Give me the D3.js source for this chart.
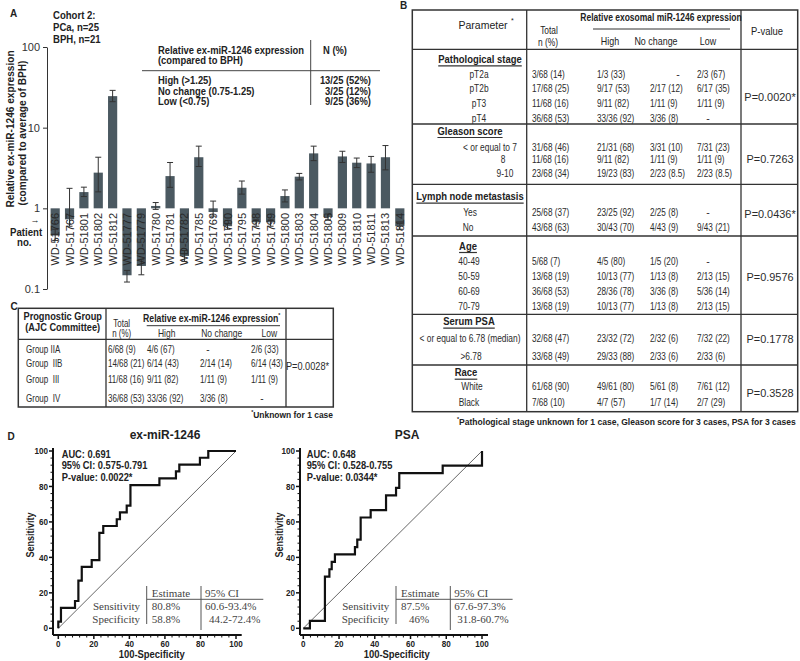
<!DOCTYPE html>
<html><head><meta charset="utf-8">
<script src="https://cdn.jsdelivr.net/npm/d3@7"></script>
<style>body{margin:0;background:#fff}svg{display:block}</style>
</head><body><svg id="c" width="800" height="661"></svg>
<script>
// ================= DATA =================
// Panel A
const patients = ["WD-51766","WD-51767","WD-51801","WD-51802","WD-51812","WD-51777","WD-51779","WD-51780","WD-51781","WD-51782","WD-51785","WD-51769","WD-51790","WD-51795","WD-51798","WD-51799","WD-51800","WD-51803","WD-51804","WD-51805","WD-51809","WD-51810","WD-51811","WD-51813","WD-51814"];
const expression = [0.46,0.73,1.59,2.77,24.6,0.148,0.193,1.07,2.51,0.257,4.3,0.9,0.6,1.8,0.67,0.67,1.42,2.47,4.8,0.78,4.4,3.68,3.6,4.3,0.6];
const errLow  = [0.40,0.60,1.40,1.60,21.0,0.122,0.150,0.97,1.82,0.22,3.3,0.80,0.55,1.50,0.60,0.60,1.20,2.25,3.9,0.72,3.7,3.2,2.8,3.0,0.55];
const errHigh = [0.55,1.77,1.83,4.30,29.0,0.17,0.23,1.18,3.70,0.30,5.9,1.23,0.65,2.18,0.72,0.72,1.69,2.71,5.9,0.85,5.1,4.2,4.4,6.0,0.65];
const yTickValsA = [0.1,1,10,100];
const yTickLabelsA = ["0.1","1","10","100"];
const cohortLines = ["Cohort 2:","PCa, n=25","BPH, n=21"];
const legendHead = ["Relative ex-miR-1246 expression","(compared to BPH)"];
const legendCats = ["High (>1.25)","No change (0.75-1.25)","Low (<0.75)"];
const legendN = ["13/25 (52%)","3/25 (12%)","9/25 (36%)"];

// Panel B
const pathStage = [["pT2a","3/68 (14)","1/3 (33)","-","2/3 (67)"],["pT2b","17/68 (25)","9/17 (53)","2/17 (12)","6/17 (35)"],["pT3","11/68 (16)","9/11 (82)","1/11 (9)","1/11 (9)"],["pT4","36/68 (53)","33/36 (92)","3/36 (8)","-"]];
const gleason = [["< or equal to 7","31/68 (46)","21/31 (68)","3/31 (10)","7/31 (23)"],["8","11/68 (16)","9/11 (82)","1/11 (9)","1/11 (9)"],["9-10","23/68 (34)","19/23 (83)","2/23 (8.5)","2/23 (8.5)"]];
const lymph = [["Yes","25/68 (37)","23/25 (92)","2/25 (8)","-"],["No","43/68 (63)","30/43 (70)","4/43 (9)","9/43 (21)"]];
const age = [["40-49","5/68 (7)","4/5 (80)","1/5 (20)","-"],["50-59","13/68 (19)","10/13 (77)","1/13 (8)","2/13 (15)"],["60-69","36/68 (53)","28/36 (78)","3/36 (8)","5/36 (14)"],["70-79","13/68 (19)","10/13 (77)","1/13 (8)","2/13 (15)"]];
const serumPSA = [["< or equal to 6.78 (median)","32/68 (47)","23/32 (72)","2/32 (6)","7/32 (22)"],[">6.78","33/68 (49)","29/33 (88)","2/33 (6)","2/33 (6)"]];
const race = [["White","61/68 (90)","49/61 (80)","5/61 (8)","7/61 (12)"],["Black","7/68 (10)","4/7 (57)","1/7 (14)","2/7 (29)"]];
const sectionTitlesB = ["Pathological stage","Gleason score","Lymph node metastasis","Age","Serum PSA","Race"];
const pValuesB = ["P=0.0020*","P=0.7263","P=0.0436*","P=0.9576","P=0.1778","P=0.3528"];

// Panel C
const progGroups = [["Group IIA","6/68 (9)","4/6 (67)","-","2/6 (33)"],["Group\u00a0 IIB","14/68 (21)","6/14 (43)","2/14 (14)","6/14 (43)"],["Group\u00a0 III","11/68 (16)","9/11 (82)","1/11 (9)","1/11 (9)"],["Group\u00a0 IV","36/68 (53)","33/36 (92)","3/36 (8)","-"]];
const pValueC = "P=0.0028*";

// Panel D
const rocTicks = [0,20,40,60,80,100];
const mirFpr = [0,0,1.5,1.5,9.4,9.4,11.3,11.3,13.2,13.2,18.8,18.8,23.1,23.1,25.3,25.3,32.9,32.9,34.7,34.7,38.5,38.5,40.6,40.6,56.9,56.9,66.2,66.2,68.1,68.1,79.7,79.7,84.4,84.4,100];
const mirTpr = [0,3.8,3.8,11.5,11.5,15.4,15.4,26.9,26.9,34.6,34.6,38.5,38.5,53.8,53.8,57.7,57.7,61.5,61.5,65.4,65.4,69.2,69.2,80.8,80.8,84.6,84.6,88.5,88.5,92.3,92.3,96.2,96.2,100,100];
const psaFpr = [0,3.7,3.7,12.1,12.1,14.6,14.6,15.9,15.9,17.7,17.7,28.9,28.9,30.2,30.2,32.1,32.1,37.7,37.7,46.3,46.3,51.9,51.9,53.7,53.7,78,78,100,100];
const psaTpr = [0,0,4.2,4.2,29.2,29.2,33.3,33.3,37.5,37.5,41.7,41.7,45.8,45.8,50,50,62.5,62.5,66.7,66.7,75,75,79.2,79.2,87.5,87.5,91.7,91.7,100];
const mirStats = ["AUC: 0.691","95% CI: 0.575-0.791","P-value: 0.0022*"];
const psaStats = ["AUC: 0.648","95% CI: 0.528-0.755","P-value: 0.0344*"];
const estHead = ["Estimate","95% CI"];
const estRows = ["Sensitivity","Specificity"];
const mirEstimate = ["80.8%","58.8%"], mirCI = ["60.6-93.4%","44.2-72.4%"];
const psaEstimate = ["87.5%","46%"], psaCI = ["67.6-97.3%","31.8-60.7%"];

// ================= DRAWING =================
const FONT = "'Liberation Sans', Arial, Helvetica, sans-serif";
const SERIF = "'Liberation Serif', 'DejaVu Serif', serif";
const INK = "#222";
const svg = d3.select("#c");
svg.append("rect").attr("width",800).attr("height",661).attr("fill","#fff");

function T(g, x, y, s, o = {}) {
  const t = g.append("text").attr("x",0).attr("y",0)
    .attr("font-family", o.family || FONT)
    .attr("font-size", o.size || 10)
    .attr("font-weight", o.weight || "normal")
    .attr("fill", o.fill || INK)
    .attr("text-anchor", o.anchor || "start")
    .attr("dominant-baseline","central")
    .style("white-space","pre")
    .text(s);
  let tr = `translate(${x},${y})`;
  if (o.rot) tr += ` rotate(${o.rot})`;
  if (o.sx) tr += ` scale(${o.sx},1)`;
  t.attr("transform", tr);
  return t;
}
function L(g, x1, y1, x2, y2, w = 1, c = "#333") {
  return g.append("line").attr("x1",x1).attr("y1",y1).attr("x2",x2).attr("y2",y2)
    .attr("stroke",c).attr("stroke-width",w);
}

// ---------- Panel A ----------
const gA = svg.append("g");
T(gA, 10, 13, "A", {size:10, weight:"bold"});
cohortLines.forEach((s,i) => T(gA, 53, 15.7 + i*11.8, s, {size:11, weight:"bold", sx:0.87}));

const yA = d3.scaleLog().domain([0.1,100]).range([289,47]);
const xA = d3.scaleBand().domain(patients).range([48,407]).paddingInner(0.36).paddingOuter(0.18);

const axA = d3.axisLeft(yA).tickValues(yTickValsA).tickFormat((d,i) => yTickLabelsA[i]).tickSize(4).tickSizeOuter(0).tickPadding(3);
const gAx = gA.append("g").attr("transform","translate(47,0)").call(axA);
gAx.selectAll("text").attr("font-family",FONT).attr("font-size",11).attr("fill","#333");
gAx.selectAll("line,path").attr("stroke","#333");

gA.append("g").selectAll("rect").data(patients).join("rect")
  .attr("x", d => xA(d)).attr("width", xA.bandwidth())
  .attr("y", (d,i) => Math.min(yA(1), yA(expression[i])))
  .attr("height", (d,i) => Math.abs(yA(1) - yA(expression[i])))
  .attr("fill","#4b5961");

const gErr = gA.append("g");
patients.forEach((p,i) => {
  const cx = xA(p) + xA.bandwidth()/2;
  L(gErr, cx, yA(errLow[i]), cx, yA(errHigh[i]), 1, "#333");
  L(gErr, cx-3, yA(errLow[i]), cx+3, yA(errLow[i]), 1, "#333");
  L(gErr, cx-3, yA(errHigh[i]), cx+3, yA(errHigh[i]), 1, "#333");
});
patients.forEach(p => {
  const cx = xA(p) + xA.bandwidth()/2;
  T(gA, cx, 213, p, {size:11, anchor:"end", rot:-90, fill:"#2a2a2a"});
});
T(gA, 10, 129, "Relative ex-miR-1246 expression", {size:11, weight:"bold", anchor:"middle", rot:-90, sx:0.92});
T(gA, 22, 133, "(compared to average of BPH)", {size:11, weight:"bold", anchor:"middle", rot:-90, sx:0.92});
T(gA, 35, 220, "\u2192", {size:9, weight:"bold", anchor:"middle"});
T(gA, 10, 232, "Patient", {size:10.5, weight:"bold", sx:0.92});
T(gA, 17, 242, "no.", {size:10.5, weight:"bold", sx:0.92});

// legend table in A
T(gA, 158, 50, legendHead[0], {size:10, weight:"bold", sx:0.94});
T(gA, 158, 60, legendHead[1], {size:10, weight:"bold", sx:0.94});
T(gA, 323, 50, "N (%)", {size:10, weight:"bold", sx:0.94});
L(gA, 142, 70.7, 380, 70.7, 1, "#444");
L(gA, 310.7, 40, 310.7, 105, 1, "#444");
legendCats.forEach((s,i) => {
  T(gA, 158, 80.7 + i*10.3, s, {size:10, weight:"bold", sx:0.94});
  T(gA, 371, 80.7 + i*10.3, legendN[i], {size:10, weight:"bold", sx:0.94, anchor:"end"});
});

// ---------- Panel B ----------
const gB = svg.append("g");
T(gB, 400, 5.5, "B", {size:10, weight:"bold"});
const bL = 412.3, bR = 797.7, bT = 10, bB = 411.7;
gB.append("rect").attr("x",bL).attr("y",bT).attr("width",bR-bL).attr("height",bB-bT)
  .attr("fill","none").attr("stroke","#333").attr("stroke-width",1.5);
L(gB, 526.7, bT, 526.7, bB, 1.3);
L(gB, 741, bT, 741, bB, 1.3);
const sepB = [49.3,124,184.3,236,314.3,365];
sepB.forEach(y => L(gB, bL, y, bR, y, 1.3));
T(gB, 483, 25, "Parameter", {size:10.5, anchor:"middle"});
T(gB, 511, 20, "*", {size:7});
T(gB, 549, 30, "Total", {size:10.5, anchor:"middle", sx:0.8});
T(gB, 548, 41.7, "n (%)", {size:10.5, anchor:"middle", sx:0.8});
T(gB, 661, 18, "Relative exosomal miR-1246 expression", {size:10, weight:"bold", anchor:"middle", sx:0.85});
L(gB, 593, 29, 730, 29, 1, "#333");
T(gB, 610, 41.7, "High", {size:10.5, anchor:"middle", sx:0.85});
T(gB, 656, 41.7, "No change", {size:10.5, anchor:"middle", sx:0.85});
T(gB, 708, 41.7, "Low", {size:10.5, anchor:"middle", sx:0.85});
T(gB, 767, 31.7, "P-value", {size:10.5, anchor:"middle", sx:0.9});

const sectionsB = [pathStage, gleason, lymph, age, serumPSA, race];
const titleYB = [59.3,131,196.7,246,321.7,372.7];
const titleXB = [480,470,470,468,469,466];
const rowYB = [[74,88.3,103.3,118.3],[146.7,159.3,172.7],[211.7,226.7],[261,276,290.7,306],[337.7,356],[386,401.7]];
const rowXB = [[479,479,479,479],[490,503,505],[470,468],[469,469,469,469],[470,471],[472,469]];
const pYB = [96.7,159.3,214,276.7,339.3,392.7];
const colXB = [532,597,650,697], dashXB = [560,610,678,708];
sectionsB.forEach((rows, si) => {
  const t = T(gB, titleXB[si], titleYB[si], sectionTitlesB[si], {size:11, weight:"bold", anchor:"middle", sx:0.86});
  const w = t.node().getComputedTextLength() * 0.86;
  L(gB, titleXB[si] - w/2, titleYB[si] + 6.5, titleXB[si] + w/2, titleYB[si] + 6.5, 1.2, "#333");
  rows.forEach((r, ri) => {
    const y = rowYB[si][ri];
    T(gB, rowXB[si][ri], y, r[0], {size:10.5, anchor:"middle", sx:0.8, fill:"#2b2b2b"});
    for (let c = 1; c < 5; c++) {
      if (r[c] === "-") T(gB, dashXB[c-1], y, "-", {size:10.5, anchor:"middle", fill:"#2b2b2b"});
      else T(gB, colXB[c-1], y, r[c], {size:10.5, sx:0.78, fill:"#2b2b2b"});
    }
  });
  T(gB, 770, pYB[si], pValuesB[si], {size:11.5, anchor:"middle", sx:0.95, fill:"#2b2b2b"});
});
const fn = T(gB, 457, 422, "", {size:9.5, weight:"bold", sx:0.9});
fn.append("tspan").attr("font-size",6).attr("dy",-3).text("*");
fn.append("tspan").attr("dy",3).text("Pathological stage unknown for 1 case, Gleason score for 3 cases, PSA for 3 cases");

// ---------- Panel C ----------
const gC = svg.append("g");
T(gC, 10.5, 306.5, "C", {size:10, weight:"bold"});
const cL = 18.3, cR = 333.3, cT = 308.3, cB = 407;
gC.append("rect").attr("x",cL).attr("y",cT).attr("width",cR-cL).attr("height",cB-cT)
  .attr("fill","none").attr("stroke","#333").attr("stroke-width",1.5);
L(gC, 106, cT, 106, cB, 1.3);
L(gC, 286, cT, 286, cB, 1.3);
L(gC, cL, 339.3, cR, 339.3, 1.3);
T(gC, 62.7, 316.7, "Prognostic Group", {size:10.5, weight:"bold", anchor:"middle", sx:0.88});
T(gC, 62.7, 327.3, "(AJC Committee)", {size:10.5, weight:"bold", anchor:"middle", sx:0.88});
T(gC, 121.7, 323.3, "Total", {size:10, anchor:"middle", sx:0.8, fill:"#2b2b2b"});
T(gC, 121.7, 334, "n (%)", {size:10, anchor:"middle", sx:0.8, fill:"#2b2b2b"});
const rh = T(gC, 211.7, 318.3, "", {size:10, weight:"bold", anchor:"middle", sx:0.87});
rh.append("tspan").text("Relative ex-miR-1246 expression");
rh.append("tspan").attr("font-size",6).attr("dy",-3).text("*");
L(gC, 146.7, 325.7, 280, 325.7, 1, "#333");
T(gC, 166.7, 334, "High", {size:10, anchor:"middle", sx:0.85, fill:"#2b2b2b"});
T(gC, 221.7, 334, "No change", {size:10, anchor:"middle", sx:0.85, fill:"#2b2b2b"});
T(gC, 269.3, 334, "Low", {size:10, anchor:"middle", sx:0.85, fill:"#2b2b2b"});
const rowYC = [349.3,364,379.3,398.3];
const colXC = [26,108,147,200,251], dashXC = [0,120,160,208,262];
progGroups.forEach((r, ri) => {
  for (let c = 0; c < 5; c++) {
    if (r[c] === "-") T(gC, dashXC[c], rowYC[ri], "-", {size:10, anchor:"middle", fill:"#2b2b2b"});
    else T(gC, colXC[c], rowYC[ri], r[c], {size:10, sx:0.8, fill:"#2b2b2b"});
  }
});
T(gC, 307.5, 366.7, pValueC, {size:10, anchor:"middle", sx:0.92, fill:"#2b2b2b"});
const un = T(gC, 333, 415, "", {size:9.5, weight:"bold", anchor:"end", sx:0.89});
un.append("tspan").attr("font-size",6).attr("dy",-3).text("*");
un.append("tspan").attr("dy",3).text("Unknown for 1 case");

// ---------- Panel D ----------
const gD = svg.append("g");
T(gD, 7.5, 436, "D", {size:10, weight:"bold"});

function drawROC(cfg) {
  const g = gD.append("g");
  const x = d3.scaleLinear().domain([0,100]).range([cfg.x0, cfg.x100]);
  const y = d3.scaleLinear().domain([0,100]).range([628.3, 451]);
  const axX = cfg.axisX, axY = 635;
  L(g, axX, 448, axX, axY, 2, "#111");
  L(g, axX, axY, cfg.xEnd, axY, 2, "#111");
  const minor = d3.range(0,101,4).filter(v => v % 20 !== 0);
  rocTicks.forEach(v => {
    L(g, axX-4, y(v), axX, y(v), 1.5, "#111");
    L(g, x(v), axY, x(v), axY+4, 1.5, "#111");
    T(g, axX-5, y(v), String(v), {size:9, weight:"bold", anchor:"end", sx:0.9});
    T(g, x(v), axY+9, String(v), {size:9, weight:"bold", anchor:"middle", sx:0.9});
  });
  minor.forEach(v => {
    L(g, axX-2.5, y(v), axX, y(v), 1, "#111");
    L(g, x(v), axY, x(v), axY+2.5, 1, "#111");
  });
  g.append("line").attr("x1",x(0)).attr("y1",y(0)).attr("x2",x(100)).attr("y2",y(100))
    .attr("stroke","#555").attr("stroke-width",0.9);
  const pts = cfg.fpr.map((f,i) => [f, cfg.tpr[i]]);
  g.append("path").datum(pts)
    .attr("d", d3.line().x(d => x(d[0])).y(d => y(d[1])))
    .attr("fill","none").attr("stroke","#111").attr("stroke-width",2.2)
    .attr("stroke-linejoin","miter");
  T(g, cfg.titleX, 435, cfg.title, {size:12.5, weight:"bold", anchor:"middle", sx:0.96});
  T(g, cfg.sensX, 535, "Sensitivity", {size:10, weight:"bold", anchor:"middle", rot:-90, sx:0.9});
  T(g, cfg.x0 + 93.4, 654, "100-Specificity", {size:10.5, weight:"bold", anchor:"middle", sx:0.9});
  cfg.stats.forEach((s,i) => T(g, cfg.x0 + 3.4, 454.3 + i*11.5, s, {size:10, weight:"bold", sx:0.93}));
  const o = cfg.x0 + cfg.dx;
  L(g, o+88.4, 586, o+88.4, 624, 1, "#555");
  L(g, o+142.7, 586, o+142.7, 630, 1, "#555");
  L(g, o+88.4, 599.3, o+205, 599.3, 1, "#555");
  T(g, o+93.4, 593.3, estHead[0], {size:11, family:SERIF, fill:"#444"});
  T(g, o+146.7, 593.3, estHead[1], {size:11, family:SERIF, fill:"#444"});
  estRows.forEach((s,i) => {
    const yy = 605.5 + i*13;
    T(g, o+81.7, yy, s, {size:11, family:SERIF, fill:"#444", anchor:"end"});
    T(g, o+93.4 + (cfg.estShift[i]||0), yy, cfg.est[i], {size:11, family:SERIF, fill:"#444"});
    T(g, o+146.7 + (cfg.ciShift[i]||0), yy, cfg.ci[i], {size:11, family:SERIF, fill:"#444"});
  });
}
drawROC({x0:58.3, x100:236, axisX:53, xEnd:241.7, title:"ex-miR-1246", titleX:165, sensX:30,
  fpr:mirFpr, tpr:mirTpr, stats:mirStats, est:mirEstimate, ci:mirCI, dx:0, estShift:[0,0], ciShift:[0,4]});
drawROC({x0:303.3, x100:482, axisX:300, xEnd:488, title:"PSA", titleX:407, sensX:279.3,
  fpr:psaFpr, tpr:psaTpr, stats:psaStats, est:psaEstimate, ci:psaCI, dx:4.3, estShift:[0,8], ciShift:[0,3]});
</script></body></html>
